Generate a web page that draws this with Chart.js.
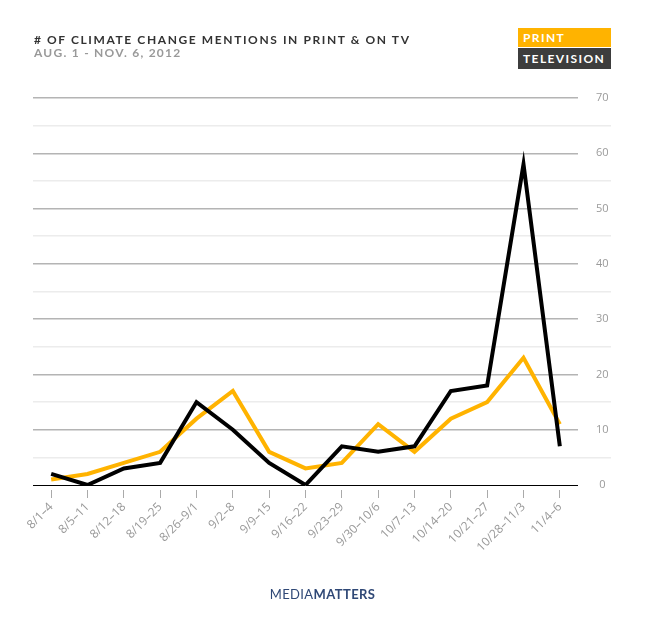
<!DOCTYPE html>
<html>
<head>
<meta charset="utf-8">
<script src="https://cdn.jsdelivr.net/npm/chart.js@4.4.0/dist/chart.umd.min.js"></script>
<style>
html, body { margin: 0; padding: 0; background: #fff; }
#wrap { position: relative; width: 645px; height: 634px; overflow: hidden; }
#chart { position: absolute; left: 0; top: 0; }
.title { position: absolute; left: 34px; top: 32px; font: bold 12px Lato; letter-spacing: 1.6px; color: #333; white-space: nowrap; }
.subtitle { position: absolute; left: 34px; top: 45px; font: bold 12px Lato; letter-spacing: 1.25px; color: #999; white-space: nowrap; }
.key { position: absolute; left: 518px; width: 88px; padding-left: 5px; font: bold 12px Lato; letter-spacing: 1.4px; color: #fff; white-space: nowrap; }
.key.print { top: 28px; height: 19px; line-height: 19px; background: #ffb300; }
.key.tv { top: 48px; height: 21px; line-height: 21px; background: #3d3d3d; }
.footer { position: absolute; left: 0; width: 645px; top: 586px; text-align: center; font: 13px Lato; letter-spacing: 0.4px; color: #2f4876; }
.footer b { font-weight: bold; }
</style>
</head>
<body>
<div id="wrap">
    <canvas id="chart" width="645" height="634"></canvas>
    <div class="title"># OF CLIMATE CHANGE MENTIONS IN PRINT &amp; ON TV</div>
    <div class="subtitle">AUG. 1 - NOV. 6, 2012</div>
    <div class="key print">PRINT</div>
    <div class="key tv">TELEVISION</div>
    <div class="footer">MEDIA<b>MATTERS</b></div>
</div>
<script>
/** 周次 */
var weeks = ['8/1–4', '8/5–11', '8/12–18', '8/19–25', '8/26–9/1', '9/2–8', '9/9–15', '9/16–22',
    '9/23–29', '9/30–10/6', '10/7–13', '10/14–20', '10/21–27', '10/28–11/3', '11/4–6']
/** 报纸提及次数 */
var printValues = [1, 2, 4, 6, 12, 17, 6, 3, 4, 11, 6, 12, 15, 23, 11]
/** 电视提及次数 */
var tvValues = [2, 0, 3, 4, 15, 10, 4, 0, 7, 6, 7, 17, 18, 58, 7]
/** 纵坐标刻度 */
var yMin = 0
var yMax = 70
var yStep = 5

var isMajor = function (v) { return v % 10 === 0 }

var ctx = document.getElementById('chart').getContext('2d')
var myChart = new Chart(ctx, {
    type: 'line',
    data: {
        labels: weeks,
        datasets: [
            {
                label: 'Print',
                data: printValues,
                borderColor: '#ffb300',
                borderWidth: 4,
                tension: 0,
                borderJoinStyle: 'miter',
                pointRadius: 0,
                fill: false,
                order: 2
            },
            {
                label: 'Television',
                data: tvValues,
                borderColor: '#000',
                borderWidth: 4,
                tension: 0,
                borderJoinStyle: 'miter',
                pointRadius: 0,
                fill: false,
                order: 1
            }
        ]
    },
    options: {
        responsive: false,
        animation: false,
        layout: { padding: { top: 98, left: 33, right: 0, bottom: 0 } },
        plugins: { legend: { display: false }, tooltip: { enabled: false } },
        scales: {
            x: {
                offset: true,
                border: { display: false },
                grid: {
                    offset: false,
                    drawOnChartArea: false,
                    drawTicks: true,
                    tickLength: 13,
                    tickColor: '#aaa',
                    tickWidth: 1,
                    tickBorderDash: [0, 5, 8, 30]
                },
                ticks: {
                    autoSkip: false,
                    maxRotation: 45,
                    minRotation: 45,
                    padding: 2,
                    color: '#999',
                    font: { family: 'Open Sans', size: 12 }
                },
                afterFit: function (scale) { scale.height = 634 - 485 }
            },
            y: {
                position: 'right',
                min: yMin,
                max: yMax,
                border: { display: false },
                grid: {
                    drawTicks: true,
                    tickLength: 33,
                    color: function (c) {
                        var v = c.tick.value
                        if (v === 0) return '#000'
                        return isMajor(v) ? '#b4b4b4' : '#ececec'
                    },
                    lineWidth: function (c) {
                        return c.tick.value === 0 ? 1 : 1.5
                    },
                    tickColor: function (c) {
                        return isMajor(c.tick.value) ? 'rgba(0,0,0,0)' : '#ececec'
                    },
                    tickWidth: 1.5
                },
                ticks: {
                    stepSize: yStep,
                    crossAlign: 'center',
                    padding: -15,
                    color: '#9a9a9a',
                    font: { family: 'Open Sans', size: 11 },
                    callback: function (v) { return isMajor(v) ? v : '' }
                },
                afterFit: function (scale) { scale.width = 645 - 578 }
            }
        }
    }
})
</script>
</body>
</html>
